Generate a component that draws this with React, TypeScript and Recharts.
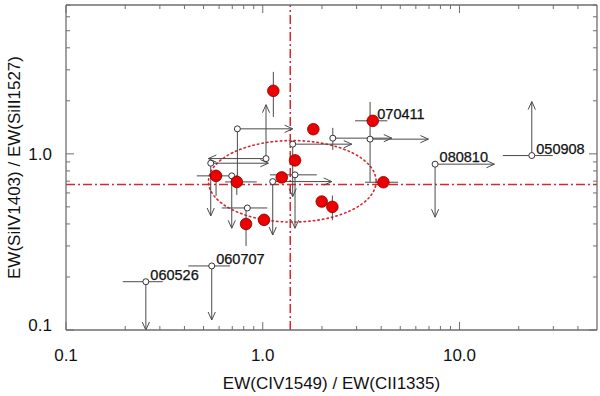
import React from 'react';
import { ScatterChart, Scatter, XAxis, YAxis, ReferenceLine, ReferenceArea } from 'recharts';

// ---------- axes ----------
const xTicks = [0.1, 0.2, 0.3, 0.4, 0.5, 0.6, 0.7, 0.8, 0.9, 1, 2, 3, 4, 5, 6, 7, 8, 9, 10, 20, 30, 40];
const xMajorTicks = [0.1, 1, 10];
const xTickLabels = ['0.1', '1.0', '10.0'];
const yTicks = [0.1, 0.2, 0.3, 0.4, 0.5, 0.6, 0.7, 0.8, 0.9, 1, 2, 3, 4, 5, 6, 7];
const yMajorTicks = [0.1, 1];
const yTickLabels = ['0.1', '1.0'];
const xDomain = [0.1, 50];
const yDomain = [0.1, 7];
const xTitle = 'EW(CIV1549) / EW(CII1335)';
const yTitle = 'EW(SiIV1403) / EW(SiII1527)';

// ---------- reference marks ----------
const refX = 1.38;
const refY = 0.67;
const ellipseX = [0.53, 3.77];
const ellipseY = [0.41, 1.19];

// ---------- detections (red) ----------
const detections = [
  { x: 1.132, y: 2.28, yLo: 1.62, yHi: 2.92 },
  { x: 1.808, y: 1.38 },
  { x: 3.624, y: 1.54, xLo: 2.946, xHi: 4.30, name: '070411' },
  { x: 4.104, y: 0.69, xLo: 3.31, xHi: 4.875 },
  { x: 0.579, y: 0.75, xLo: 0.462, xHi: 0.69, yLo: 0.577, yHi: 0.811 },
  { x: 0.738, y: 0.693, xLo: 0.643, xHi: 0.932, yLo: 0.585, yHi: 0.76 },
  { x: 0.8225, y: 0.40, yLo: 0.30, yHi: 0.49 },
  { x: 1.015, y: 0.422 },
  { x: 1.249, y: 0.735 },
  { x: 1.459, y: 0.918 },
  { x: 1.995, y: 0.536 },
  { x: 2.259, y: 0.50, yLo: 0.42, yHi: 0.58 },
];

// ---------- limits (open circles with arrows) ----------
const limits = [
  { x: 0.2546, y: 0.188, xLo: 0.1943, xHi: 0.3102, arrowY: 0.1, name: '060526' },
  { x: 0.5505, y: 0.231, xLo: 0.4185, xHi: 0.682, arrowY: 0.114, name: '060707' },
  { x: 7.516, y: 0.874, arrowX: 15.05, arrowY: 0.437, name: '080810' },
  { x: 23.31, y: 0.978, xLo: 16.6, xHi: 29.8, arrowY: 1.98, name: '050908' },
  { x: 0.743, y: 1.387, arrowX: 1.42, yLo: 0.693 },
  { x: 1.039, y: 0.94, arrowX: 0.529, arrowY: 1.90 },
  { x: 0.5441, y: 0.885, arrowX: 1.068, arrowY: 0.444 },
  { x: 0.6958, y: 0.75, arrowY: 0.378 },
  { x: 0.835, y: 0.493, xLo: 0.619, xHi: 1.055 },
  { x: 1.124, y: 0.696, arrowX: 2.243, arrowY: 0.346 },
  { x: 1.459, y: 0.76, xLo: 1.089, xHi: 1.882, arrowY: 0.378 },
  { x: 1.42, y: 1.135, arrowX: 2.835, arrowY: 0.572 },
  { x: 2.27, y: 1.228, yLo: 1.054, yHi: 1.405, arrowX: 4.528 },
  { x: 3.512, y: 1.212, yLo: 0.693, yHi: 1.97, arrowX: 6.95 },
];

const FRAME = '#6e6e6e';
const LINE = '#4a4a4a';
const RED = '#d8262b';
const FONT = '"Liberation Sans", Arial, Helvetica, sans-serif';

type Pt = { x: number; y: number };
type Seg = { a: Pt; b: Pt; arrow: boolean };

function buildSegments(): Seg[] {
  const segs: Seg[] = [];
  const add = (d: any) => {
    if (d.xLo !== undefined) segs.push({ a: { x: d.xLo, y: d.y }, b: { x: d.xHi, y: d.y }, arrow: false });
    if (d.yLo !== undefined) segs.push({ a: { x: d.x, y: d.yLo }, b: { x: d.x, y: d.yHi !== undefined ? d.yHi : d.y }, arrow: false });
    if (d.arrowX !== undefined) segs.push({ a: { x: d.x, y: d.y }, b: { x: d.arrowX, y: d.y }, arrow: true });
    if (d.arrowY !== undefined) segs.push({ a: { x: d.x, y: d.y }, b: { x: d.x, y: d.arrowY }, arrow: true });
  };
  limits.forEach(add);
  detections.forEach(add);
  return segs;
}
const segments = buildSegments();
const labeled = [...limits, ...detections].filter((d: any) => d.name);

const makeSegShape = (arrow: boolean) => (p: any) => {
  const { x1, y1, x2, y2 } = p;
  if ([x1, y1, x2, y2].some((v) => typeof v !== 'number' || isNaN(v))) return <g />;
  let head = null;
  if (arrow) {
    const dx = x2 - x1, dy = y2 - y1;
    const len = Math.sqrt(dx * dx + dy * dy) || 1;
    const ux = dx / len, uy = dy / len;
    const nx = -uy, ny = ux;
    const L = 8, Hw = 3.6;
    head = (
      <polyline
        points={`${x2 - L * ux + Hw * nx},${y2 - L * uy + Hw * ny} ${x2},${y2} ${x2 - L * ux - Hw * nx},${y2 - L * uy - Hw * ny}`}
        fill="none" stroke={LINE} strokeWidth={1} />
    );
  }
  return (
    <g>
      <line x1={x1} y1={y1} x2={x2} y2={y2} stroke={LINE} strokeWidth={1} />
      {head}
    </g>
  );
};

const BottomTick = (p: any) => {
  const { x, y, payload } = p;
  const v = payload.value;
  const mi = xMajorTicks.indexOf(v);
  const major = mi >= 0;
  return (
    <g>
      <line x1={x} x2={x} y1={y} y2={y - (major ? 8 : 4)} stroke={FRAME} strokeWidth={1} />
      {major && (
        <text x={x} y={y + 31} textAnchor="middle" fontFamily={FONT} fontSize={17} fill="#111">{xTickLabels[mi]}</text>
      )}
    </g>
  );
};
const TopTick = (p: any) => {
  const { x, y, payload } = p;
  const major = xMajorTicks.indexOf(payload.value) >= 0;
  return <line x1={x} x2={x} y1={y} y2={y + (major ? 8 : 4)} stroke={FRAME} strokeWidth={1} />;
};
const LeftTick = (p: any) => {
  const { x, y, payload } = p;
  const mi = yMajorTicks.indexOf(payload.value);
  const major = mi >= 0;
  return (
    <g>
      <line x1={x} x2={x + (major ? 8 : 4)} y1={y} y2={y} stroke={FRAME} strokeWidth={1} />
      {major && (
        <text x={x - 14} y={y + (payload.value === 0.1 ? 1 : 6)} textAnchor="end" fontFamily={FONT} fontSize={17} fill="#111">{yTickLabels[mi]}</text>
      )}
    </g>
  );
};
const RightTick = (p: any) => {
  const { x, y, payload } = p;
  const major = yMajorTicks.indexOf(payload.value) >= 0;
  return <line x1={x} x2={x - (major ? 8 : 4)} y1={y} y2={y} stroke={FRAME} strokeWidth={1} />;
};

const RedDot = (p: any) => (
  <circle cx={p.cx} cy={p.cy} r={5.8} fill="#ee0000" stroke="#7a0000" strokeWidth={0.8} />
);
const OpenDot = (p: any) => (
  <circle cx={p.cx} cy={p.cy} r={3} fill="#ffffff" stroke="#333" strokeWidth={1} />
);
const NameLabel = (p: any) => (
  <text x={p.cx + 4.5} y={p.cy - 2} fontFamily={FONT} fontSize={14.5} fill="#111" stroke="#111" strokeWidth={0.25}>{p.payload.name}</text>
);

export default function App() {
  return (
    <div style={{ position: 'absolute', left: 0, top: 0, width: 600, height: 396, background: '#fff' }}>
      <ScatterChart width={600} height={396} margin={{ top: 4, right: 2, bottom: 0, left: 0 }}>
        <XAxis
          dataKey="x" type="number" scale="log" domain={xDomain} allowDataOverflow
          ticks={xTicks} interval={0} tickSize={0} tickMargin={0} height={66}
          axisLine={{ stroke: FRAME, strokeWidth: 1.3 }} tickLine={false}
          tick={(p: any) => <BottomTick {...p} />}
          label={{
            content: (lp: any) => {
              const vb = lp.viewBox || {};
              return (
                <text x={vb.x + vb.width / 2} y={vb.y + 59} textAnchor="middle" fontFamily={FONT} fontSize={17} fill="#111">{xTitle}</text>
              );
            },
          }}
        />
        <XAxis
          xAxisId="top" dataKey="x" orientation="top" type="number" scale="log" domain={xDomain} allowDataOverflow
          ticks={xTicks} interval={0} tickSize={0} tickMargin={0} height={1}
          axisLine={{ stroke: FRAME, strokeWidth: 1.3 }} tickLine={false}
          tick={(p: any) => <TopTick {...p} />}
        />
        <YAxis
          dataKey="y" type="number" scale="log" domain={yDomain} allowDataOverflow
          ticks={yTicks} interval={0} tickSize={0} tickMargin={0} width={66}
          axisLine={{ stroke: FRAME, strokeWidth: 1.3 }} tickLine={false}
          tick={(p: any) => <LeftTick {...p} />}
          label={{
            content: (lp: any) => {
              const vb = lp.viewBox || {};
              const cx = vb.x + 14;
              const cy = vb.y + vb.height / 2;
              return (
                <text x={cx} y={cy} transform={`rotate(-90 ${cx} ${cy})`} textAnchor="middle" dominantBaseline="central" fontFamily={FONT} fontSize={17} fill="#111">{yTitle}</text>
              );
            },
          }}
        />
        <YAxis
          yAxisId="right" dataKey="y" orientation="right" type="number" scale="log" domain={yDomain} allowDataOverflow
          ticks={yTicks} interval={0} tickSize={0} tickMargin={0} width={1}
          axisLine={{ stroke: FRAME, strokeWidth: 1.3 }} tickLine={false}
          tick={(p: any) => <RightTick {...p} />}
        />

        <ReferenceArea
          x1={ellipseX[0]} x2={ellipseX[1]} y1={ellipseY[0]} y2={ellipseY[1]} ifOverflow="visible"
          shape={(p: any) => (
            <ellipse cx={p.x + p.width / 2} cy={p.y + p.height / 2} rx={Math.abs(p.width) / 2} ry={Math.abs(p.height) / 2}
              fill="none" stroke={RED} strokeWidth={1.6} strokeDasharray="1.4 3.2" strokeLinecap="round" />
          )}
        />
        <ReferenceLine x={refX} stroke={RED} strokeWidth={1.5} strokeDasharray="9 3 2 3" ifOverflow="visible" />
        <ReferenceLine y={refY} stroke={RED} strokeWidth={1.5} strokeDasharray="9 3 2 3" ifOverflow="visible" />

        {segments.map((s, i) => (
          <ReferenceLine key={i} segment={[s.a, s.b]} ifOverflow="visible" shape={makeSegShape(s.arrow)} />
        ))}

        <Scatter data={limits} dataKey="y" isAnimationActive={false} shape={(p: any) => <OpenDot {...p} />} />
        <Scatter data={detections} dataKey="y" isAnimationActive={false} shape={(p: any) => <RedDot {...p} />} />
        <Scatter data={labeled} dataKey="y" xAxisId="top" yAxisId="right" isAnimationActive={false} shape={(p: any) => <NameLabel {...p} />} />
      </ScatterChart>
    </div>
  );
}
